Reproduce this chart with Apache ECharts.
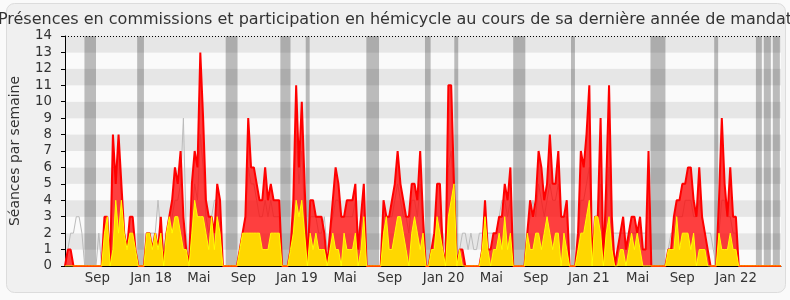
<!DOCTYPE html>
<html><head><meta charset="utf-8">
<script src="https://cdn.jsdelivr.net/npm/echarts@6/dist/echarts.min.js"></script>
<style>html,body{margin:0;padding:0;background:#fafafa}#c{width:790px;height:300px}</style>
</head><body><div id="c"></div>
<script>
// Weekly values (one entry per week, index 0 = first week)
const presences = [
0,1,1,0,0,0,0,0,0,0, 0,0,0,0,3,3,0,8,5,8, 5,2,1,3,3,1,0,0,0,2, 2,1,2,1,3,0,2,3,4,6,
5,7,3,1,0,5,7,6,13,9, 4,3,3,2,5,4,0,0,0,0, 0,0,1,2,3,9,6,6,5,4, 4,6,4,5,4,4,4,0,0,0,
1,4,11,6,10,5,0,4,4,3, 3,3,2,0,2,4,6,5,3,3, 4,4,4,5,1,3,5,0,0,0, 0,0,0,4,3,3,4,5,7,5,
4,3,3,5,5,4,7,3,0,0, 1,2,5,5,1,0,11,11,5,0, 1,1,0,0,0,0,0,0,1,4, 1,1,2,2,3,3,5,4,6,0,
0,0,0,0,2,4,3,4,7,6, 4,5,8,5,5,7,3,3,4,0, 0,0,2,7,6,8,11,0,3,3, 9,0,5,11,3,0,1,2,3,1,
2,3,3,2,3,1,1,7,0,0, 0,0,0,0,1,1,3,4,4,5, 5,6,6,4,3,6,3,2,1,0, 0,0,4,9,5,3,6,3,3,0,
0,0,0,0,0,0,0,0,0,0, 0,0,0,0,0
];
const participations = [
0,0,0,0,0,0,0,0,0,0, 0,0,0,0,2,3,0,1,4,2, 4,2,1,2,2,1,0,0,0,2, 2,1,2,1,2,0,2,3,2,3,
3,2,1,1,0,2,4,3,3,3, 2,1,3,1,3,2,0,0,0,0, 0,0,1,2,2,2,2,2,2,2, 1,1,1,2,2,2,2,0,0,0,
1,2,4,3,4,2,0,2,1,2, 1,1,1,0,1,2,1,1,0,2, 1,1,1,2,0,1,3,0,0,0, 0,0,0,2,3,1,1,2,3,3,
2,1,0,2,3,2,1,2,0,0, 1,1,3,2,1,0,3,4,5,0, 1,0,0,0,0,0,0,0,1,3, 1,0,1,1,2,1,3,1,2,0,
0,0,0,0,2,1,1,2,2,1, 2,3,2,1,2,2,0,2,1,0, 0,0,1,2,2,3,4,0,3,3, 2,0,2,3,1,0,0,1,1,0,
1,2,1,2,1,0,0,0,0,0, 0,0,0,0,1,1,1,3,1,2, 2,2,1,2,0,1,1,1,0,0, 0,0,2,1,1,1,2,1,1,0,
0,0,0,0,0,0,0,0,0,0, 0,0,0,0,0
];
const mediane = [
0,1,2,2,3,3,2,0,0,0, 0,0,2,0,2,2,1,6,6,7, 4,2,1,2,2,1,0,0,0,2, 2,2,2,4,2,1,2,2,3,4,
4,5,9,2,0,3,5,4,8,6, 3,2,3,4,4,2,0,0,0,0, 0,0,1,2,3,6,5,5,4,3, 3,4,3,4,3,3,3,0,0,0,
1,3,8,5,7,3,0,3,3,3, 2,2,3,1,2,3,4,4,3,3, 3,3,3,4,2,3,4,0,0,0, 0,0,0,3,3,3,3,4,5,4,
3,3,2,4,4,3,5,2,0,0, 1,2,3,3,2,1,6,7,4,0, 1,2,2,1,2,1,1,2,2,2, 2,2,2,2,3,4,4,3,4,0,
0,0,0,0,2,3,4,3,5,4, 3,4,5,4,4,5,3,3,3,0, 0,0,2,4,4,5,6,1,2,3, 5,1,3,6,2,2,2,2,2,2,
2,2,2,2,2,2,2,4,0,0, 0,0,0,0,1,2,2,3,3,3, 4,4,4,3,3,4,3,2,2,2, 1,0,2,4,4,3,3,2,2,0,
0,0,0,0,0,0,0,0,0,0, 0,0,0,0,0
];
const tickPositions = [11.47, 30.53, 47.48, 63.29, 82.24, 99.37, 115.18, 134.31, 151.25, 167.03, 185.85, 203.14, 218.95, 238.08];
const tickLabels = ['Sep','Jan 18','Mai','Sep','Jan 19','Mai','Sep','Jan 20','Mai','Sep','Jan 21','Mai','Sep','Jan 22'];
const vacances = [[6.9,11.0],[25.6,28.0],[57.0,61.2],[76.4,80.0],[85.4,86.8],[106.9,111.4],[127.7,129.7],[138.1,139.5],[159.0,163.3],[179.5,180.9],[207.7,213.0],[230.3,231.7],[245.1,247.2],[247.9,250.4],[251.1,253.6]];

const FONT = 'DejaVu Sans';
const pts = arr => arr.map((v, i) => [i, v]);
const chart = echarts.init(document.getElementById('c'), null, {renderer: 'canvas'});
chart.setOption({
  animation: false,
  backgroundColor: '#fafafa',
  textStyle: {fontFamily: FONT},
  graphic: [{
    type: 'rect', z: -10, silent: true,
    shape: {x: 6.5, y: 3.5, width: 779, height: 289, r: 8},
    style: {fill: '#f0f0f0', stroke: '#dcdcdc', lineWidth: 1}
  }],
  title: {
    text: 'Présences en commissions et participation en hémicycle au cours de sa dernière année de mandat',
    left: 'center', top: 7,
    textStyle: {fontFamily: FONT, fontSize: 16, fontWeight: 'normal', color: '#333'}
  },
  grid: {left: 61, right: 9, top: 36, bottom: 34},
  xAxis: {
    type: 'value', min: 0, max: 254,
    axisLine: {show: true, lineStyle: {color: '#000', width: 1}},
    axisTick: {show: false},
    splitLine: {show: false},
    axisLabel: {
      customValues: tickPositions,
      fontFamily: FONT, fontSize: 13.33, color: '#333', margin: 6,
      formatter: v => {
        let best = 0, d = 1e9;
        tickPositions.forEach((p, k) => { if (Math.abs(p - v) < d) { d = Math.abs(p - v); best = k; } });
        return tickLabels[best];
      }
    }
  },
  yAxis: {
    type: 'value', min: 0, max: 14, interval: 1,
    name: 'Séances par semaine', nameLocation: 'middle', nameGap: 43,
    nameTextStyle: {fontFamily: FONT, fontSize: 14, color: '#333'},
    axisLine: {show: true, lineStyle: {color: '#000', width: 1}},
    axisTick: {show: true, length: 4, lineStyle: {color: '#000'}},
    axisLabel: {fontFamily: FONT, fontSize: 13.33, color: '#333', margin: 13},
    splitLine: {show: false},
    splitArea: {show: true, areaStyle: {color: ['#fafafa', '#e6e6e6']}}
  },
  series: [
    {
      name: 'médiane', type: 'line', data: pts(mediane), symbol: 'none', z: 1,
      lineStyle: {color: '#bbbbbb', width: 1},
      markArea: {
        silent: true,
        itemStyle: {color: 'rgba(0,0,0,0.25)'},
        data: vacances.map(([a, b]) => [{xAxis: a}, {xAxis: b}])
      },
      markLine: {
        silent: true, symbol: 'none', label: {show: false},
        lineStyle: {color: '#000', type: [1, 2], width: 1},
        data: [{yAxis: 14}]
      }
    },
    {
      name: 'présences', type: 'line', data: pts(presences), symbol: 'none', z: 2,
      lineStyle: {color: '#ff0000', width: 2},
      areaStyle: {color: 'rgba(255,0,0,0.75)', opacity: 1}
    },
    {
      name: 'participations', type: 'line', data: pts(participations), symbol: 'none', z: 3,
      lineStyle: {color: '#ffff00', width: 1},
      areaStyle: {color: '#ffd700', opacity: 1}
    }
  ]
});
</script>
</body></html>
